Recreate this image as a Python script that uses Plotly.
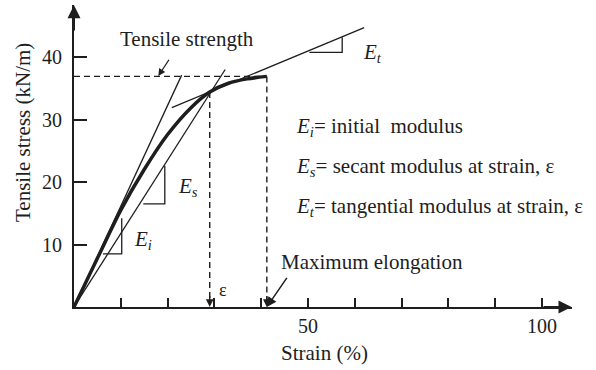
import plotly.graph_objects as go

# ---- data ----
curve_strain = [0, 5, 10, 15, 20, 25, 29, 33, 37, 41.2]
curve_stress = [0, 7.8, 15.5, 22.0, 27.6, 31.9, 34.4, 35.8, 36.5, 36.9]

ei_line_x = [0, 23.0]
ei_line_y = [0, 37.1]
es_line_x = [0, 32.3]
es_line_y = [0, 38.0]
et_line_x = [20.9, 62.0]
et_line_y = [31.9, 44.7]

ei_tri_x = [6.2, 10.2, 10.2]
ei_tri_y = [8.5, 8.5, 14.2]
es_tri_x = [14.8, 19.4, 19.4]
es_tri_y = [16.5, 16.5, 22.6]
et_tri_x = [50.3, 57.3, 57.3]
et_tri_y = [40.75, 40.75, 43.15]

tensile_strength = 36.9
max_elongation = 41.2
eps_strain = 29.0
eps_stress = 34.4

x_tickvals = [10, 20, 30, 40, 50, 60, 70, 80, 90, 100]
x_ticktext = ["", "", "", "", "50", "", "", "", "", "100"]
y_tickvals = [10, 20, 30, 40]
y_ticktext = ["10", "20", "30", "40"]

INK = "#1e1e1e"
FONT = "Liberation Serif"
FS = 21

fig = go.Figure()

def line(x, y, width=1.3, dash=None):
    fig.add_trace(go.Scatter(x=x, y=y, mode="lines", hoverinfo="skip",
                             line=dict(color=INK, width=width, dash=dash)))

line(ei_line_x, ei_line_y)
line(es_line_x, es_line_y)
line(et_line_x, et_line_y)
line(ei_tri_x, ei_tri_y)
line(es_tri_x, es_tri_y)
line(et_tri_x, et_tri_y)

# dashed guides
line([0, max_elongation], [tensile_strength, tensile_strength], width=1.4, dash="6px,4px")
line([max_elongation, max_elongation], [tensile_strength, 0.8], width=1.4, dash="6px,4px")
line([eps_strain, eps_strain], [eps_stress, 0.8], width=1.4, dash="6px,4px")

# main curve
fig.add_trace(go.Scatter(x=curve_strain, y=curve_stress, mode="lines", hoverinfo="skip",
                         line=dict(color=INK, width=3.5, shape="spline", smoothing=0.8)))

ann = []
def text(x, y, s, size=FS, xanchor="center", angle=0, xref="x", yref="y"):
    ann.append(dict(x=x, y=y, xref=xref, yref=yref, text=s, showarrow=False,
                    xanchor=xanchor, yanchor="middle", textangle=angle,
                    font=dict(family=FONT, size=size, color=INK)))

def arrow(x, y, ax, ay, size=1.2, width=1.5, head=2):
    ann.append(dict(x=x, y=y, xref="x", yref="y", ax=ax, ay=ay, axref="x", ayref="y",
                    text="", showarrow=True, arrowhead=head, arrowsize=size,
                    arrowwidth=width, arrowcolor=INK, standoff=0, startstandoff=0))

# axis arrow heads
arrow(106.3, 0, 100, 0, size=1.3, width=2)
arrow(0, 48.3, 0, 44, size=1.3, width=2)
# dashed-line arrow heads
arrow(eps_strain, 0, eps_strain, 2.0, size=1.1, width=1.4)
arrow(max_elongation, 0, max_elongation, 2.0, size=1.1, width=1.4)
# pointer arrows
arrow(18.0, 36.95, 20.5, 39.8, size=1.1, width=1.3)
arrow(max_elongation, 0, 45.7, 4.9, size=1.3, width=1.5)

text(24.1, 42.9, "Tensile strength")
text(63.6, 7.25, "Maximum elongation")
text(31.9, 2.7, "ε", size=18)
text(14.8, 10.7, "<i>E</i><sub><i>i</i></sub>")
text(24.4, 19.2, "<i>E</i><sub><i>s</i></sub>")
text(63.8, 40.6, "<i>E</i><sub><i>t</i></sub>")
text(46.9, 28.85, "<i>E</i><sub><i>i</i></sub>= initial&nbsp; modulus", xanchor="left")
text(46.9, 22.45, "<i>E</i><sub><i>s</i></sub>= secant modulus at strain, ε", xanchor="left")
text(46.9, 16.05, "<i>E</i><sub><i>t</i></sub>= tangential modulus at strain, ε", xanchor="left")

# axis titles (paper coordinates: plot area is 498 x 302 px)
text((324 - 74) / 498, -(353 - 307) / 302, "Strain (%)", xref="paper", yref="paper")
text(-(74 - 23) / 498, (307 - 133) / 302, "Tensile stress (kN/m)", angle=-90,
     xref="paper", yref="paper")

fig.update_layout(
    width=596, height=370,
    margin=dict(l=74, r=24, t=5, b=63),
    paper_bgcolor="white", plot_bgcolor="white",
    showlegend=False,
    annotations=ann,
    font=dict(family=FONT, size=FS, color=INK),
)
fig.update_xaxes(range=[0, 106.4], showgrid=False, zeroline=False, automargin=False,
                 showline=True, linecolor=INK, linewidth=2,
                 ticks="inside", ticklen=9, tickwidth=1.5, tickcolor=INK,
                 tickvals=x_tickvals, ticktext=x_ticktext,
                 tickfont=dict(family=FONT, size=20, color=INK))
fig.update_yaxes(range=[0, 48.32], showgrid=False, zeroline=False, automargin=False,
                 showline=True, linecolor=INK, linewidth=2,
                 ticks="inside", ticklen=13, tickwidth=1.5, tickcolor=INK,
                 tickvals=y_tickvals, ticktext=y_ticktext,
                 ticklabelstandoff=6,
                 tickfont=dict(family=FONT, size=20, color=INK))

fig.write_html("out.html", config={"displayModeBar": False},
               post_script="document.body.style.margin='0';document.body.style.overflow='hidden';")
